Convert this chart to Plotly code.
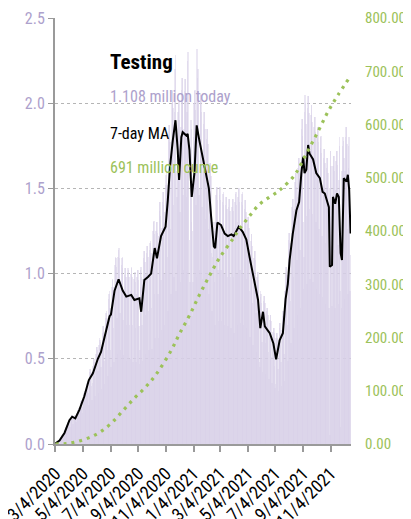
import pandas as pd
import plotly.graph_objects as go

# ---------------- DATA ----------------
# Daily tests (millions), one row per week starting Monday 2020-03-02
bar_start = "2020-03-02"
daily_weeks = [
    [0, 0, 0.002, 0.003, 0.004, 0.004, 0.003],
    [0.007, 0.009, 0.012, 0.016, 0.02, 0.022, 0.02],
    [0.03, 0.035, 0.045, 0.05, 0.06, 0.055, 0.045],
    [0.065, 0.075, 0.08, 0.09, 0.1, 0.09, 0.075],
    [0.11, 0.12, 0.13, 0.14, 0.13, 0.12, 0.1],
    [0.14, 0.15, 0.16, 0.16, 0.17, 0.15, 0.12],
    [0.15, 0.15, 0.16, 0.17, 0.16, 0.16, 0.13],
    [0.16, 0.18, 0.2, 0.2, 0.21, 0.18, 0.15],
    [0.2, 0.22, 0.24, 0.25, 0.26, 0.22, 0.18],
    [0.25, 0.28, 0.3, 0.31, 0.3, 0.26, 0.2],
    [0.3, 0.34, 0.36, 0.37, 0.36, 0.3, 0.23],
    [0.36, 0.42, 0.44, 0.44, 0.42, 0.34, 0.26],
    [0.36, 0.46, 0.5, 0.5, 0.48, 0.4, 0.28],
    [0.46, 0.53, 0.57, 0.57, 0.55, 0.43, 0.3],
    [0.5, 0.58, 0.62, 0.61, 0.6, 0.45, 0.32],
    [0.57, 0.65, 0.69, 0.69, 0.66, 0.49, 0.35],
    [0.64, 0.74, 0.77, 0.78, 0.74, 0.55, 0.4],
    [0.74, 0.85, 0.88, 0.9, 0.8, 0.55, 0.45],
    [0.8, 0.92, 0.96, 0.97, 0.92, 0.68, 0.48],
    [0.92, 1.05, 1.1, 1.09, 1.04, 0.74, 0.53],
    [0.97, 1.1, 1.14, 1.15, 1.09, 0.77, 0.55],
    [0.93, 1.05, 1.09, 1.1, 1.03, 0.73, 0.52],
    [0.88, 0.99, 1.03, 1.03, 0.98, 0.7, 0.49],
    [0.88, 1.0, 1.03, 1.02, 0.98, 0.7, 0.5],
    [0.9, 1.0, 1.04, 1.03, 0.98, 0.7, 0.48],
    [0.86, 0.97, 1.0, 1.01, 0.95, 0.68, 0.48],
    [0.88, 0.98, 1.02, 1.02, 0.96, 0.69, 0.47],
    [0.55, 0.92, 1.02, 1.04, 0.98, 0.7, 0.49],
    [0.97, 1.09, 1.13, 1.13, 1.07, 0.76, 0.53],
    [1.0, 1.12, 1.16, 1.16, 1.1, 0.78, 0.55],
    [1.02, 1.14, 1.18, 1.19, 1.12, 0.8, 0.56],
    [1.12, 1.25, 1.3, 1.31, 1.23, 0.88, 0.62],
    [1.1, 1.25, 1.3, 1.3, 1.24, 0.88, 0.62],
    [1.22, 1.37, 1.42, 1.42, 1.34, 0.96, 0.67],
    [1.27, 1.42, 1.48, 1.48, 1.4, 1.0, 0.7],
    [1.36, 1.52, 1.58, 1.6, 1.52, 1.1, 0.78],
    [1.6, 1.8, 1.87, 1.87, 1.77, 1.26, 0.88],
    [1.78, 2.0, 2.07, 2.08, 1.97, 1.4, 0.98],
    [1.95, 2.2, 2.28, 0.9, 1.6, 1.45, 1.05],
    [1.75, 1.95, 2.0, 2.01, 1.9, 1.36, 0.95],
    [1.86, 2.08, 2.15, 2.15, 2.04, 1.46, 1.02],
    [1.85, 2.07, 2.14, 2.14, 2.03, 1.45, 1.01],
    [1.95, 2.25, 2.3, 1.6, 0.7, 1.2, 0.95],
    [1.7, 1.9, 1.85, 1.3, 0.75, 1.25, 0.95],
    [1.8, 2.0, 2.07, 2.08, 1.96, 1.4, 0.98],
    [1.86, 2.32, 2.15, 2.2, 2.04, 1.46, 1.02],
    [1.5, 2.0, 2.06, 2.05, 1.95, 1.39, 0.97],
    [1.68, 1.88, 1.95, 1.95, 1.85, 1.32, 0.92],
    [1.6, 1.79, 1.85, 1.85, 1.76, 1.26, 0.88],
    [1.43, 1.6, 1.65, 1.65, 1.57, 1.12, 0.78],
    [1.1, 1.3, 1.2, 1.25, 1.3, 0.95, 0.7],
    [1.3, 1.46, 1.51, 1.51, 1.43, 1.02, 0.72],
    [1.3, 1.46, 1.51, 1.51, 1.43, 1.02, 0.72],
    [1.27, 1.42, 1.47, 1.48, 1.4, 1.0, 0.7],
    [1.25, 1.4, 1.45, 1.45, 1.38, 0.98, 0.69],
    [1.24, 1.39, 1.44, 1.44, 1.37, 0.98, 0.68],
    [1.24, 1.39, 1.44, 1.44, 1.37, 0.98, 0.65],
    [1.27, 1.42, 1.47, 1.48, 1.4, 1.0, 0.7],
    [1.3, 1.45, 1.5, 1.5, 1.42, 1.02, 0.71],
    [1.27, 1.42, 1.47, 1.48, 1.4, 1.0, 0.7],
    [1.23, 1.38, 1.43, 1.43, 1.36, 0.97, 0.68],
    [1.15, 1.29, 1.33, 1.33, 1.27, 0.9, 0.63],
    [1.06, 1.19, 1.23, 1.23, 1.16, 0.83, 0.58],
    [0.98, 1.09, 1.13, 1.13, 1.08, 0.77, 0.54],
    [0.88, 0.98, 1.01, 1.01, 0.96, 0.69, 0.48],
    [0.45, 0.86, 0.9, 0.88, 0.83, 0.6, 0.42],
    [0.75, 0.84, 0.87, 0.87, 0.83, 0.59, 0.41],
    [0.69, 0.78, 0.8, 0.8, 0.76, 0.54, 0.38],
    [0.65, 0.73, 0.76, 0.76, 0.72, 0.51, 0.36],
    [0.59, 0.66, 0.68, 0.68, 0.65, 0.46, 0.33],
    [0.35, 0.62, 0.65, 0.65, 0.62, 0.44, 0.31],
    [0.61, 0.68, 0.71, 0.71, 0.67, 0.48, 0.34],
    [0.67, 0.75, 0.78, 0.78, 0.74, 0.53, 0.37],
    [0.9, 1.0, 1.04, 1.04, 0.99, 0.7, 0.49],
    [1.07, 1.2, 1.24, 1.24, 1.18, 0.84, 0.59],
    [1.24, 1.39, 1.44, 1.44, 1.37, 0.98, 0.68],
    [1.38, 1.54, 1.59, 1.59, 1.51, 1.08, 0.76],
    [1.45, 1.62, 1.68, 1.68, 1.59, 1.14, 0.8],
    [1.65, 1.85, 1.91, 1.91, 1.81, 1.3, 0.91],
    [1.1, 1.95, 2.05, 2.0, 1.88, 1.34, 0.94],
    [1.76, 1.97, 2.04, 2.04, 1.94, 1.38, 0.97],
    [1.72, 1.93, 1.99, 1.99, 1.89, 1.35, 0.95],
    [1.66, 1.86, 1.92, 1.92, 1.83, 1.3, 0.91],
    [1.61, 1.8, 1.86, 1.86, 1.77, 1.26, 0.88],
    [1.56, 1.74, 1.8, 1.81, 1.71, 1.22, 0.86],
    [1.5, 1.68, 1.73, 1.73, 1.65, 1.18, 0.82],
    [1.45, 1.62, 1.68, 1.68, 1.59, 1.14, 0.8],
    [1.5, 0.05, 1.72, 1.72, 1.63, 1.16, 0.81],
    [1.46, 1.63, 1.69, 1.69, 1.6, 1.14, 0.8],
    [1.49, 1.66, 1.72, 1.72, 1.64, 1.17, 0.82],
    [1.55, 1.75, 1.8, 0.9, 0.1, 1.1, 0.8],
    [1.6, 1.75, 1.8, 1.78, 1.68, 1.2, 0.85],
    [1.6, 1.8, 1.86, 1.86, 1.76, 1.26, 0.88],
    [1.62, 1.75, 1.8, 1.3, 0.9, 1.108],
]

# 7-day moving average (millions)
ma_dates = [
    "2020-03-04", "2020-03-13", "2020-03-24", "2020-04-04", "2020-04-10", "2020-04-17", "2020-04-26",
    "2020-05-07", "2020-05-17", "2020-05-26", "2020-06-06", "2020-06-13", "2020-06-21", "2020-07-02",
    "2020-07-05", "2020-07-13", "2020-07-22", "2020-07-31", "2020-08-08", "2020-08-19", "2020-08-26",
    "2020-09-06", "2020-09-10", "2020-09-17", "2020-09-25", "2020-10-02", "2020-10-10", "2020-10-15",
    "2020-10-24", "2020-11-03", "2020-11-08", "2020-11-13", "2020-11-19", "2020-11-25", "2020-11-30",
    "2020-12-03", "2020-12-08", "2020-12-11", "2020-12-19", "2020-12-22", "2020-12-26", "2020-12-31",
    "2021-01-06", "2021-01-11", "2021-01-17", "2021-01-23", "2021-02-01", "2021-02-07", "2021-02-12",
    "2021-02-18", "2021-02-21", "2021-02-26", "2021-03-06", "2021-03-14", "2021-03-21", "2021-03-29",
    "2021-04-03", "2021-04-09", "2021-04-14", "2021-04-23", "2021-05-01", "2021-05-08", "2021-05-17",
    "2021-05-27", "2021-06-01", "2021-06-07", "2021-06-11", "2021-06-22", "2021-06-30", "2021-07-06",
    "2021-07-14", "2021-07-21", "2021-07-27", "2021-08-01", "2021-08-05", "2021-08-12", "2021-08-20",
    "2021-08-26", "2021-08-31", "2021-09-04", "2021-09-07", "2021-09-11", "2021-09-15", "2021-09-18",
    "2021-09-26", "2021-10-03", "2021-10-11", "2021-10-17", "2021-10-22", "2021-10-27", "2021-10-31",
    "2021-11-02", "2021-11-07", "2021-11-09", "2021-11-14", "2021-11-18", "2021-11-22", "2021-11-26",
    "2021-11-29", "2021-12-03", "2021-12-09", "2021-12-12", "2021-12-15", "2021-12-18",
]
ma_values = [
    0.004, 0.02, 0.065, 0.14, 0.16, 0.15, 0.20,
    0.28, 0.375, 0.415, 0.50, 0.54, 0.63, 0.75,
    0.76, 0.90, 0.967, 0.90, 0.865, 0.875, 0.845,
    0.855, 0.776, 0.962, 0.98, 1.0, 1.15, 1.09,
    1.22, 1.275, 1.43, 1.63, 1.78, 1.90, 1.725,
    1.55, 1.80, 1.83, 1.81, 1.82, 1.725, 1.45,
    1.59, 1.87, 1.78, 1.70, 1.60, 1.50, 1.335,
    1.16, 1.15, 1.30, 1.285, 1.235, 1.22, 1.23,
    1.22, 1.25, 1.275, 1.245, 1.20, 1.10, 0.98,
    0.845, 0.68, 0.776, 0.69, 0.65, 0.59, 0.497,
    0.61, 0.65, 0.85, 0.94, 1.08, 1.235, 1.37,
    1.42, 1.59, 1.685, 1.59, 1.61, 1.755, 1.705,
    1.67, 1.59, 1.56, 1.48, 1.47, 1.43, 1.39,
    1.04, 1.05, 1.45, 1.41, 1.47, 1.45, 1.12,
    1.08, 1.56, 1.54, 1.58, 1.49, 1.235,
]

# Cumulative tests (millions)
cume_dates = [
    "2020-03-04", "2020-03-29", "2020-04-23", "2020-05-18", "2020-06-12", "2020-07-07", "2020-08-01",
    "2020-08-26", "2020-09-20", "2020-10-15", "2020-11-15", "2020-12-04", "2020-12-27", "2021-01-17",
    "2021-02-09", "2021-03-03", "2021-04-02", "2021-04-16", "2021-05-08", "2021-05-30", "2021-06-22",
    "2021-07-10", "2021-07-21", "2021-08-16", "2021-09-11", "2021-10-07", "2021-10-29", "2021-11-20",
    "2021-12-18",
]
cume_values = [
    0, 1, 5, 12, 23, 40, 63,
    86, 107, 133, 175, 207, 243, 280,
    317, 350, 386, 404, 428, 450, 464,
    474, 482, 505, 545, 587, 624, 655,
    691,
]

tick_dates = ["2020-03-04", "2020-05-04", "2020-07-04", "2020-09-04", "2020-11-04", "2021-01-04",
              "2021-03-04", "2021-05-04", "2021-07-04", "2021-09-04", "2021-11-04"]
tick_labels = ["3/4/2020", "5/4/2020", "7/4/2020", "9/4/2020", "11/4/2020", "1/4/2021",
               "3/4/2021", "5/4/2021", "7/4/2021", "9/4/2021", "11/4/2021"]

title_text = "Testing"
today_text = "1.108 million today"
ma_text = "7-day MA"
cume_text = "691 million cume"

# ---------------- FIGURE ----------------
daily = [v for week in daily_weeks for v in week]
bar_dates = pd.date_range(bar_start, periods=len(daily), freq="D")

FONT = "Roboto Condensed, Liberation Sans Narrow, Roboto, sans-serif"
PURPLE = "#ada1cc"
GREEN = "#9cc25a"
GRAY = "#9a9a9a"

fig = go.Figure()
fig.add_trace(go.Bar(x=bar_dates, y=daily,
                     marker=dict(color="rgb(216,208,232)", opacity=0.5, line=dict(width=0)),
                     hoverinfo="skip", name="daily"))
fig.add_trace(go.Scatter(x=cume_dates, y=cume_values, yaxis="y2", mode="lines",
                         line=dict(color=GREEN, width=3.2, dash="3px,5px", shape="spline"),
                         name="cume"))
fig.add_trace(go.Scatter(x=ma_dates, y=ma_values, mode="lines",
                         line=dict(color="black", width=2), name="ma"))

# the page body has an 8px margin, so the figure is sized 8px smaller on each axis
fig.update_layout(
    template="none",
    width=403, height=511,
    margin=dict(l=47, r=60, t=10, b=75, autoexpand=False),
    paper_bgcolor="white", plot_bgcolor="white",
    showlegend=False, bargap=0,
    font=dict(family=FONT, size=15),
    xaxis=dict(type="date", range=["2020-03-03", "2021-12-19"], automargin=False,
               tickvals=tick_dates, ticktext=tick_labels, tickangle=-45,
               tickfont=dict(size=18, color="black"), ticklabelstandoff=4,
               ticklabeloverflow="allow",
               ticks="outside", ticklen=6, tickcolor=GRAY, tickwidth=2,
               showline=True, linecolor=GRAY, linewidth=2, showgrid=False, zeroline=False),
    yaxis=dict(range=[0, 2.5], dtick=0.5, tickformat=".1f", automargin=False,
               tickfont=dict(size=16, color=PURPLE),
               ticks="outside", ticklen=5, tickcolor=GRAY, tickwidth=1,
               showline=True, linecolor=GRAY, linewidth=2,
               showgrid=True, gridcolor="#b5b5b5", griddash="dot", gridwidth=1, zeroline=False),
    yaxis2=dict(range=[0, 800], dtick=100, tickformat=".2f", overlaying="y", side="right",
                automargin=False, tickfont=dict(size=15, color=GREEN), showgrid=False,
                zeroline=False, showline=False, ticks="", ticklabelstandoff=13),
)

ann = [
    (title_text, 0.897, "black", 21, True),
    (today_text, 0.815, PURPLE, 16, False),
    (ma_text, 0.730, "black", 16, False),
    (cume_text, 0.648, GREEN, 16, False),
]
for txt, yy, col, sz, bold in ann:
    fig.add_annotation(x=0.178, y=yy, xref="paper", yref="paper", xanchor="left", yanchor="middle",
                       text=f"<b>{txt}</b>" if bold else txt, showarrow=False,
                       font=dict(family=FONT, size=sz, color=col))

fig.write_html("out.html")
